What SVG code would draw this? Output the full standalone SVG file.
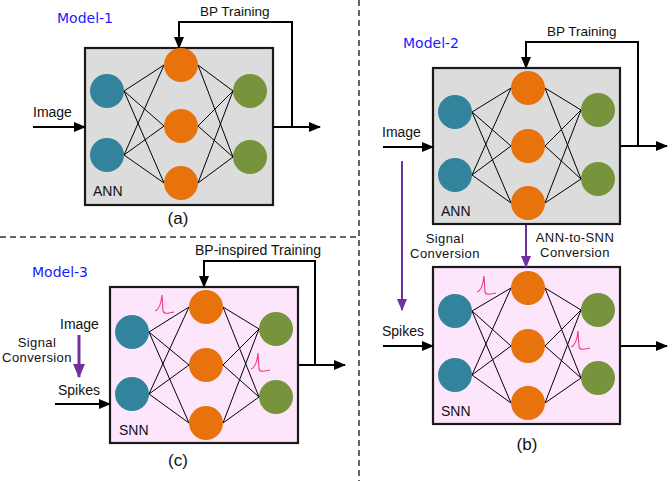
<svg xmlns="http://www.w3.org/2000/svg" width="672" height="481" viewBox="0 0 672 481">
<style>
.t{font-family:"Liberation Sans",Arial,sans-serif;font-size:14px;fill:#111}
.ts{font-family:"Liberation Sans",Arial,sans-serif;font-size:13.5px;fill:#111}
.t2{font-family:"Liberation Sans",Arial,sans-serif;font-size:13px;letter-spacing:0.4px;fill:#111;text-anchor:middle}
.cap{font-family:"Liberation Sans",Arial,sans-serif;font-size:17px;fill:#111;text-anchor:middle}
.model{font-family:"DejaVu Sans","Liberation Sans",sans-serif;font-size:14px;fill:#1a1aff}
.ann{fill:#dcdcdc;stroke:#1a1a1a;stroke-width:2.2}
.snn{fill:#fde6fb;stroke:#1a1a1a;stroke-width:2.2}
.in{fill:#31849b}
.hid{fill:#e8720c}
.out{fill:#77933c}
.w{stroke:#000;stroke-width:1;fill:none}
.arr{stroke:#000;stroke-width:2;fill:none}
.pur{stroke:#7030a0;stroke-width:2;fill:none}
.dash{stroke:#333;stroke-width:1.5;stroke-dasharray:6,4;fill:none}
.spk{stroke:#ee3a7c;stroke-width:1.1;fill:none}
</style>
<defs>
<marker id="ah" markerUnits="userSpaceOnUse" markerWidth="12" markerHeight="10" refX="11" refY="5" orient="auto"><path d="M0,0 L12,5 L0,10 z" fill="#000"/></marker>
<marker id="ap" markerUnits="userSpaceOnUse" markerWidth="12" markerHeight="10" refX="11" refY="5" orient="auto"><path d="M0,0 L12,5 L0,10 z" fill="#7030a0"/></marker>
<marker id="ap2" markerUnits="userSpaceOnUse" markerWidth="14" markerHeight="12" refX="13" refY="6" orient="auto"><path d="M0,0 L14,6 L0,12 z" fill="#7030a0"/></marker>
<path id="spike" class="spk" d="M0,16 C3,15 6,10 7,0 L8,16 Q9,19 14,18 L19,17"/>
</defs>

<g id="separators">
<path class="dash" d="M0,237 H359"/>
<path class="dash" d="M359,0 V481"/>
</g>

<g id="box-a"><rect class="ann" x="85" y="48" width="188" height="157"/><text class="t" x="93" y="196">ANN</text></g>
<g id="box-b-ann"><rect class="ann" x="433" y="68" width="187" height="156"/><text class="t" x="441" y="216">ANN</text></g>
<g id="box-b-snn"><rect class="snn" x="433" y="267" width="187" height="157"/><text class="t" x="441" y="416">SNN</text></g>
<g id="box-c"><rect class="snn" x="110" y="287" width="188" height="156"/><text class="t" x="119" y="435">SNN</text></g>

<g id="connectors">
<path class="w" d="M124,91 L164,65 M124,91 L164,126 M124,91 L164,183 M124,155 L164,65 M124,155 L164,126 M124,155 L164,183 M198,65 L233,91 M198,65 L233,157 M198,126 L233,91 M198,126 L233,157 M198,183 L233,91 M198,183 L233,157"/>
<path class="w" d="M472,112 L511,88 M472,112 L511,146 M472,112 L511,203 M472,175 L511,88 M472,175 L511,146 M472,175 L511,203 M545,88 L581,110 M545,88 L581,179 M545,146 L581,110 M545,146 L581,179 M545,203 L581,110 M545,203 L581,179"/>
<path class="w" d="M472,311 L511,288 M472,311 L511,346 M472,311 L511,403 M472,375 L511,288 M472,375 L511,346 M472,375 L511,403 M545,288 L581,310 M545,288 L581,378 M545,346 L581,310 M545,346 L581,378 M545,403 L581,310 M545,403 L581,378"/>
<path class="w" d="M149,332 L189,307 M149,332 L189,365 M149,332 L189,423 M149,394 L189,307 M149,394 L189,365 M149,394 L189,423 M223,307 L259,329 M223,307 L259,397 M223,365 L259,329 M223,365 L259,397 M223,423 L259,329 M223,423 L259,397"/>
<path class="arr" d="M33,127 H85" marker-end="url(#ah)"/>
<path class="arr" d="M273,127 H320" marker-end="url(#ah)"/>
<path class="arr" d="M292,127 V22 H179 V48" marker-end="url(#ah)"/>
<path class="arr" d="M383,147 H433" marker-end="url(#ah)"/>
<path class="arr" d="M620,146 H667" marker-end="url(#ah)"/>
<path class="arr" d="M638,146 V42 H526 V68" marker-end="url(#ah)"/>
<path class="arr" d="M383,346 H433" marker-end="url(#ah)"/>
<path class="arr" d="M620,346 H667" marker-end="url(#ah)"/>
<path class="pur" d="M402,161 V310" marker-end="url(#ap)"/>
<path class="pur" d="M526,225 V267" marker-end="url(#ap)"/>
<path class="arr" d="M55,404 H110" marker-end="url(#ah)"/>
<path class="arr" d="M298,365 H345" marker-end="url(#ah)"/>
<path class="arr" d="M315,365 V261 H204 V287" marker-end="url(#ah)"/>
<path class="pur" style="stroke-width:3" d="M79,335 V377" marker-end="url(#ap2)"/>
</g>

<g id="a-in1"><circle class="in" cx="107" cy="91" r="17"/></g>
<g id="a-in2"><circle class="in" cx="107" cy="155" r="17"/></g>
<g id="a-h1"><circle class="hid" cx="181" cy="65" r="17"/></g>
<g id="a-h2"><circle class="hid" cx="181" cy="126" r="17"/></g>
<g id="a-h3"><circle class="hid" cx="181" cy="183" r="17"/></g>
<g id="a-o1"><circle class="out" cx="250" cy="91" r="17"/></g>
<g id="a-o2"><circle class="out" cx="250" cy="157" r="17"/></g>
<g id="b1-in1"><circle class="in" cx="455" cy="112" r="17"/></g>
<g id="b1-in2"><circle class="in" cx="455" cy="175" r="17"/></g>
<g id="b1-h1"><circle class="hid" cx="528" cy="88" r="17"/></g>
<g id="b1-h2"><circle class="hid" cx="528" cy="146" r="17"/></g>
<g id="b1-h3"><circle class="hid" cx="528" cy="203" r="17"/></g>
<g id="b1-o1"><circle class="out" cx="598" cy="110" r="17"/></g>
<g id="b1-o2"><circle class="out" cx="598" cy="179" r="17"/></g>
<g id="b2-in1"><circle class="in" cx="455" cy="311" r="17"/></g>
<g id="b2-in2"><circle class="in" cx="455" cy="375" r="17"/></g>
<g id="b2-h1"><circle class="hid" cx="528" cy="288" r="17"/></g>
<g id="b2-h2"><circle class="hid" cx="528" cy="346" r="17"/></g>
<g id="b2-h3"><circle class="hid" cx="528" cy="403" r="17"/></g>
<g id="b2-o1"><circle class="out" cx="598" cy="310" r="17"/></g>
<g id="b2-o2"><circle class="out" cx="598" cy="378" r="17"/></g>
<g id="c-in1"><circle class="in" cx="132" cy="332" r="17"/></g>
<g id="c-in2"><circle class="in" cx="132" cy="394" r="17"/></g>
<g id="c-h1"><circle class="hid" cx="206" cy="307" r="17"/></g>
<g id="c-h2"><circle class="hid" cx="206" cy="365" r="17"/></g>
<g id="c-h3"><circle class="hid" cx="206" cy="423" r="17"/></g>
<g id="c-o1"><circle class="out" cx="276" cy="329" r="17"/></g>
<g id="c-o2"><circle class="out" cx="276" cy="397" r="17"/></g>

<g id="spikes">
<use href="#spike" x="477" y="276"/>
<use href="#spike" x="571" y="331"/>
<use href="#spike" x="155" y="295"/>
<use href="#spike" x="251" y="353"/>
</g>

<g id="labels">
<text class="model" x="57" y="23">Model-1</text>
<text class="ts" x="200" y="16">BP Training</text>
<text class="t" x="33" y="117">Image</text>
<text class="cap" x="178" y="224">(a)</text>

<text class="model" x="403" y="48">Model-2</text>
<text class="ts" x="547" y="36">BP Training</text>
<text class="t" x="382" y="137">Image</text>
<text class="t2" x="445" y="243">Signal</text>
<text class="t2" x="445" y="258">Conversion</text>
<text class="t2" x="575" y="242">ANN-to-SNN</text>
<text class="t2" x="575" y="257">Conversion</text>
<text class="t" x="382" y="336">Spikes</text>
<text class="cap" x="527" y="450">(b)</text>

<text class="model" x="32" y="277">Model-3</text>
<text class="t" x="195" y="255">BP-inspired Training</text>
<text class="t" x="60" y="329">Image</text>
<text class="t2" x="37" y="347">Signal</text>
<text class="t2" x="37" y="362">Conversion</text>
<text class="t" x="58" y="395">Spikes</text>
<text class="cap" x="178" y="466">(c)</text>
</g>
</svg>
